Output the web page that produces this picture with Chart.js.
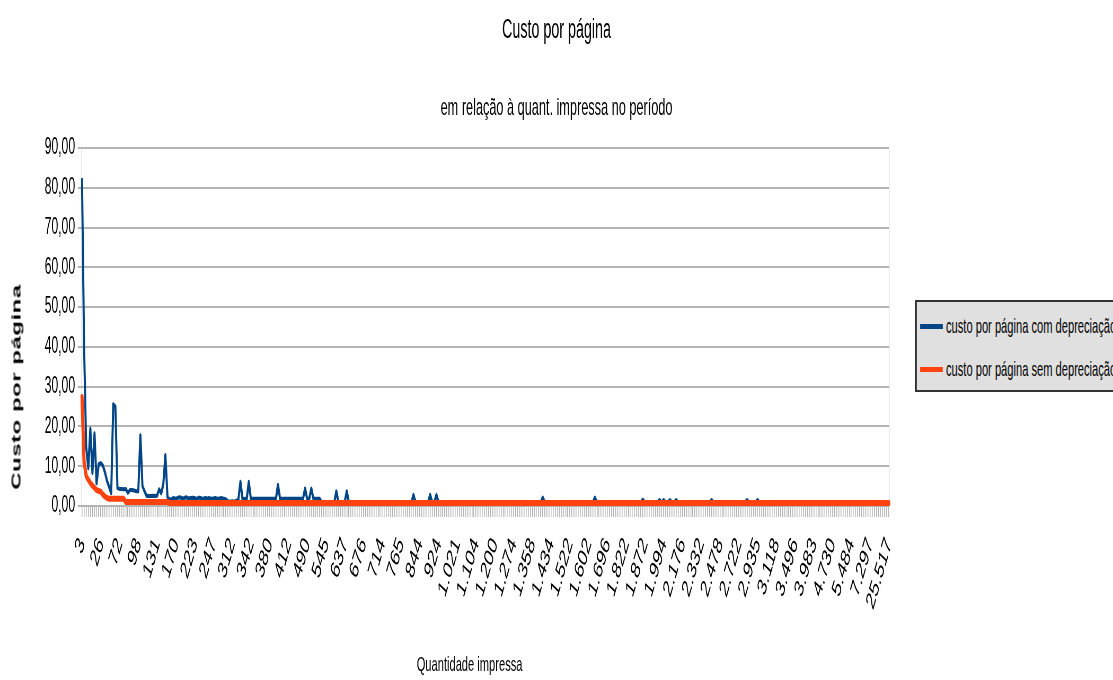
<!DOCTYPE html>
<html>
<head>
<meta charset="utf-8">
<title>Custo por página</title>
<script src="https://cdn.jsdelivr.net/npm/chart.js@4.4.1/dist/chart.umd.min.js"></script>
<style>
  html, body { margin: 0; padding: 0; background: #fff; overflow: hidden; width: 1113px; height: 680px; }
  /* o gráfico original está "espremido" na horizontal: desenho largo e depois comprimo */
  #wrap { position: absolute; left: 0; top: 0; width: 2100px; height: 680px; transform: scaleX(0.53); transform-origin: 0 0; font-family: 'Liberation Sans', Arial, sans-serif; }
  #yTitle { position: absolute; left: 30px; top: 387px; transform: translate(-50%, -50%) rotate(-90deg); font-weight: bold; font-size: 24px; letter-spacing: 0.5px; white-space: nowrap; color: #000; }
  #xTitle { position: absolute; left: 886px; top: 664px; transform: translate(-50%, -50%); font-size: 21px; white-space: nowrap; color: #000; }
  #legend { position: absolute; left: 1726px; top: 300px; width: 520px; height: 88px; background: #e0e0e0; border: 2px solid #333; border-left-width: 4px; }
  .row { position: absolute; left: 6px; height: 24px; display: flex; align-items: center; white-space: nowrap; font-size: 21px; color: #000; }
  .sw { width: 43px; height: 5px; margin-right: 6px; }
</style>
</head>
<body>
<div id="wrap">
  <canvas id="grafico" width="2100" height="680" style="width:2100px;height:680px"></canvas>
  <div id="yTitle">Custo por página</div>
  <div id="xTitle">Quantidade impressa</div>
  <div id="legend">
    <div class="row" style="top:12px"><span class="sw" style="background:#004586"></span>custo por página com depreciação</div>
    <div class="row" style="top:55px"><span class="sw" style="background:#ff420e"></span>custo por página sem depreciação</div>
  </div>
</div>
<script>
// -------------------------------
// DADOS
// -------------------------------
const FONT = "'Liberation Sans', Arial, sans-serif";
const LABEL_STEP = 9; // um rótulo a cada 9 categorias

const TICK_LABELS = ['3', '26', '72', '98', '131', '170', '223', '247', '312', '342', '380', '412', '490', '545',
  '637', '676', '714', '765', '844', '924', '1.021', '1.104', '1.200', '1.274', '1.358', '1.434', '1.522', '1.602',
  '1.696', '1.822', '1.872', '1.994', '2.176', '2.332', '2.478', '2.722', '2.935', '3.118', '3.496', '3.983',
  '4.730', '5.484', '7.297', '25.517'];

const COM_DEPRECIACAO = [
  82, 40, 15, 9.5, 19.5, 8.3, 18.3, 5.7, 10.5, 10.8,
  10.2, 8.5, 6.3, 4.8, 3.2, 25.6, 25.0, 4.5, 4.3, 4.3,
  4.2, 4.3, 3.3, 4.0, 4.0, 3.9, 3.7, 3.7, 17.8, 5.0,
  3.7, 2.5, 2.5, 2.5, 2.6, 2.5, 2.6, 4.2, 3.2, 5.5,
  12.8, 2.3, 1.5, 1.8, 2.0, 1.8, 2.1, 2.2, 1.9, 2.0,
  2.2, 1.9, 2.0, 2.1, 2.0, 1.8, 2.1, 2.0, 1.8, 2.0,
  1.9, 2.0, 1.8, 1.9, 2.0, 1.8, 1.9, 2.0, 1.8, 1.7,
  1.2, 1.1, 1.2, 1.1, 1.3, 1.6, 6.1, 1.7, 1.8, 1.7,
  6.1, 1.8, 1.8, 1.8, 1.8, 1.8, 1.8, 1.8, 1.8, 1.8,
  1.8, 1.8, 1.8, 1.8, 5.3, 1.8, 1.8, 1.8, 1.8, 1.8,
  1.8, 1.8, 1.8, 1.8, 1.8, 1.8, 1.8, 4.4, 1.8, 1.8,
  4.4, 1.8, 1.8, 1.8, 1.8, 0.9, 0.9, 0.9, 0.9, 0.9,
  0.9, 0.9, 3.7, 0.9, 0.9, 0.9, 0.9, 3.7, 0.9, 0.9,
  0.9, 0.9, 0.9, 0.9, 0.9, 0.9, 0.9, 0.9, 0.9, 0.9,
  0.9, 0.9, 0.9, 0.9, 0.9, 0.9, 0.9, 0.9, 0.9, 0.9,
  0.9, 0.9, 0.9, 0.9, 0.9, 0.9, 0.9, 0.9, 0.9, 2.8,
  0.9, 0.9, 0.9, 0.9, 0.9, 0.9, 0.9, 2.8, 0.9, 0.9,
  2.8, 0.9, 0.9, 0.9, 0.9, 0.9, 0.9, 0.9, 0.9, 0.9,
  0.9, 0.9, 0.9, 0.9, 0.9, 0.9, 0.9, 0.9, 0.9, 0.9,
  0.9, 0.9, 0.9, 0.9, 0.9, 0.9, 0.9, 0.9, 0.9, 0.9,
  0.9, 0.9, 0.9, 0.9, 0.9, 0.9, 0.9, 0.9, 0.9, 0.9,
  0.9, 0.9, 0.9, 0.9, 0.9, 0.9, 0.9, 0.9, 0.9, 0.9,
  0.9, 2.1, 0.9, 0.9, 0.9, 0.9, 0.9, 0.9, 0.9, 0.9,
  0.9, 0.9, 0.9, 0.9, 0.9, 0.9, 0.9, 0.9, 0.9, 0.9,
  0.9, 0.9, 0.9, 0.9, 0.9, 0.9, 2.1, 0.9, 0.9, 0.9,
  0.9, 0.9, 0.9, 0.9, 0.9, 0.9, 0.9, 0.9, 0.9, 0.9,
  0.9, 0.9, 0.9, 0.9, 0.9, 0.9, 0.9, 0.9, 0.9, 1.6,
  0.9, 0.9, 0.9, 0.9, 0.9, 0.9, 0.9, 1.5, 0.9, 1.5,
  0.9, 0.9, 1.5, 0.9, 0.9, 1.5, 0.9, 0.9, 0.9, 0.9,
  0.9, 0.9, 0.9, 0.9, 0.9, 0.9, 0.9, 0.9, 0.9, 0.9,
  0.9, 0.9, 1.5, 0.9, 0.9, 0.9, 0.9, 0.9, 0.9, 0.9,
  0.9, 0.9, 0.9, 0.9, 0.9, 0.9, 0.9, 0.9, 0.9, 1.5,
  0.9, 0.9, 0.9, 0.9, 1.5, 0.9, 0.9, 0.9, 0.9, 0.9,
  0.9, 0.9, 0.9, 0.9, 0.9, 0.9, 0.9, 0.9, 0.9, 0.9,
  0.9, 0.9, 0.9, 0.9, 0.9, 0.9, 0.9, 0.9, 0.9, 0.9,
  0.9, 0.9, 0.9, 0.9, 0.9, 0.9, 0.9, 0.9, 0.9, 0.9,
  0.9, 0.9, 0.9, 0.9, 0.9, 0.9, 0.9, 0.9, 0.9, 0.9,
  0.9, 0.9, 0.9, 0.9, 0.9, 0.9, 0.9, 0.9, 0.9, 0.9,
  0.9, 0.9, 0.9, 0.9, 0.9, 0.9, 0.9, 0.9
];

const SEM_DEPRECIACAO = [
  27.4, 11, 7.6, 6.6, 5.8, 5.1, 4.6, 4.0, 3.8, 3.6,
  2.9, 2.4, 2.0, 1.8, 1.8, 1.8, 1.8, 1.8, 1.8, 1.8,
  1.8, 1.0, 1.0, 1.0, 1.0, 1.0, 1.0, 1.0, 1.0, 1.0,
  1.0, 1.0, 1.0, 1.0, 1.0, 1.0, 1.0, 1.0, 1.0, 1.0,
  1.0, 1.0, 0.75, 0.75, 0.75, 0.75, 0.75, 0.75, 0.75, 0.75,
  0.75, 0.75, 0.75, 0.75, 0.75, 0.75, 0.75, 0.75, 0.75, 0.75,
  0.75, 0.75, 0.75, 0.75, 0.75, 0.75, 0.75, 0.75, 0.75, 0.75,
  0.75, 0.75, 0.75, 0.75, 0.75, 0.75, 0.75, 0.75, 0.75, 0.75,
  0.75, 0.75, 0.75, 0.75, 0.75, 0.75, 0.75, 0.75, 0.75, 0.75,
  0.75, 0.75, 0.75, 0.75, 0.75, 0.75, 0.75, 0.75, 0.75, 0.75,
  0.75, 0.75, 0.75, 0.75, 0.75, 0.75, 0.75, 0.75, 0.75, 0.75,
  0.75, 0.75, 0.75, 0.75, 0.75, 0.75, 0.75, 0.75, 0.75, 0.75,
  0.75, 0.75, 0.75, 0.75, 0.75, 0.75, 0.75, 0.75, 0.75, 0.75,
  0.75, 0.75, 0.75, 0.75, 0.75, 0.75, 0.75, 0.75, 0.75, 0.75,
  0.75, 0.75, 0.75, 0.75, 0.75, 0.75, 0.75, 0.75, 0.75, 0.75,
  0.75, 0.75, 0.75, 0.75, 0.75, 0.75, 0.75, 0.75, 0.75, 0.75,
  0.75, 0.75, 0.75, 0.75, 0.75, 0.75, 0.75, 0.75, 0.75, 0.75,
  0.75, 0.75, 0.75, 0.75, 0.75, 0.75, 0.75, 0.75, 0.75, 0.75,
  0.75, 0.75, 0.75, 0.75, 0.75, 0.75, 0.75, 0.75, 0.75, 0.75,
  0.75, 0.75, 0.75, 0.75, 0.75, 0.75, 0.75, 0.75, 0.75, 0.75,
  0.75, 0.75, 0.75, 0.75, 0.75, 0.75, 0.75, 0.75, 0.75, 0.75,
  0.75, 0.75, 0.75, 0.75, 0.75, 0.75, 0.75, 0.75, 0.75, 0.75,
  0.75, 0.75, 0.75, 0.75, 0.75, 0.75, 0.75, 0.75, 0.75, 0.75,
  0.75, 0.75, 0.75, 0.75, 0.75, 0.75, 0.75, 0.75, 0.75, 0.75,
  0.75, 0.75, 0.75, 0.75, 0.75, 0.75, 0.75, 0.75, 0.75, 0.75,
  0.75, 0.75, 0.75, 0.75, 0.75, 0.75, 0.75, 0.75, 0.75, 0.75,
  0.75, 0.75, 0.75, 0.75, 0.75, 0.75, 0.75, 0.75, 0.75, 0.75,
  0.75, 0.75, 0.75, 0.75, 0.75, 0.75, 0.75, 0.75, 0.75, 0.75,
  0.75, 0.75, 0.75, 0.75, 0.75, 0.75, 0.75, 0.75, 0.75, 0.75,
  0.75, 0.75, 0.75, 0.75, 0.75, 0.75, 0.75, 0.75, 0.75, 0.75,
  0.75, 0.75, 0.75, 0.75, 0.75, 0.75, 0.75, 0.75, 0.75, 0.75,
  0.75, 0.75, 0.75, 0.75, 0.75, 0.75, 0.75, 0.75, 0.75, 0.75,
  0.75, 0.75, 0.75, 0.75, 0.75, 0.75, 0.75, 0.75, 0.75, 0.75,
  0.75, 0.75, 0.75, 0.75, 0.75, 0.75, 0.75, 0.75, 0.75, 0.75,
  0.75, 0.75, 0.75, 0.75, 0.75, 0.75, 0.75, 0.75, 0.75, 0.75,
  0.75, 0.75, 0.75, 0.75, 0.75, 0.75, 0.75, 0.75, 0.75, 0.75,
  0.75, 0.75, 0.75, 0.75, 0.75, 0.75, 0.75, 0.75, 0.75, 0.75,
  0.75, 0.75, 0.75, 0.75, 0.75, 0.75, 0.75, 0.75, 0.75, 0.75,
  0.75, 0.75, 0.75, 0.75, 0.75, 0.75, 0.75, 0.75
];

const Y_MIN = 0, Y_MAX = 90, Y_STEP = 10;

// categorias: só uma a cada LABEL_STEP recebe texto
const categorias = COM_DEPRECIACAO.map((_, i) => (i % LABEL_STEP === 0 ? TICK_LABELS[i / LABEL_STEP] : ''));

// -------------------------------
// GRÁFICO
// -------------------------------
Chart.defaults.font.family = FONT;
Chart.defaults.color = '#000';

const GRID = '#b3b3b3';

new Chart(document.getElementById('grafico'), {
  type: 'line',
  data: {
    labels: categorias,
    datasets: [
      {
        label: 'custo por página com depreciação',
        data: COM_DEPRECIACAO,
        borderColor: '#004586',
        backgroundColor: '#004586',
        borderWidth: 4,
        order: 2, // fica por baixo da laranja
        yAxisID: 'y'
      },
      {
        label: 'custo por página sem depreciação',
        data: SEM_DEPRECIACAO,
        borderColor: '#ff420e',
        backgroundColor: '#ff420e',
        borderWidth: 6,
        order: 1,
        yAxisID: 'y'
      }
    ]
  },
  options: {
    responsive: false,
    animation: false,
    devicePixelRatio: 1,
    layout: { padding: 0 },
    elements: {
      point: { radius: 0 },
      line: { tension: 0, borderJoinStyle: 'round', borderCapStyle: 'round' }
    },
    plugins: {
      legend: { display: false },
      tooltip: { enabled: false },
      title: {
        display: true,
        text: 'Custo por página',
        font: { size: 27, weight: 'normal' },
        padding: { top: 14, bottom: 20 }
      },
      subtitle: {
        display: true,
        text: 'em relação à quant. impressa no período',
        font: { size: 24 },
        padding: { top: 27.2, bottom: 25.6 }
      }
    },
    scales: {
      x: {
        ticks: { autoSkip: false, minRotation: 62, maxRotation: 62, font: { size: 25 }, padding: 16 },
        grid: { drawOnChartArea: false, tickLength: 11, color: GRID, lineWidth: 1.5 },
        border: { color: GRID },
        afterFit: s => { s.height = 174; }
      },
      y: {
        min: Y_MIN,
        max: Y_MAX,
        ticks: {
          stepSize: Y_STEP,
          font: { size: 23 },
          padding: 5,
          callback: v => v.toFixed(2).replace('.', ',')
        },
        grid: { color: GRID, lineWidth: 2, tickLength: 8 },
        border: { color: GRID },
        afterFit: s => { s.width = 154.7; }
      },
      // eixo vazio à direita: reserva o espaço da legenda e desenha a borda direita
      yR: {
        type: 'linear',
        position: 'right',
        ticks: { display: false },
        grid: { display: false },
        border: { display: true, color: GRID },
        afterFit: s => { s.width = 423; }
      }
    }
  }
});
</script>
</body>
</html>
